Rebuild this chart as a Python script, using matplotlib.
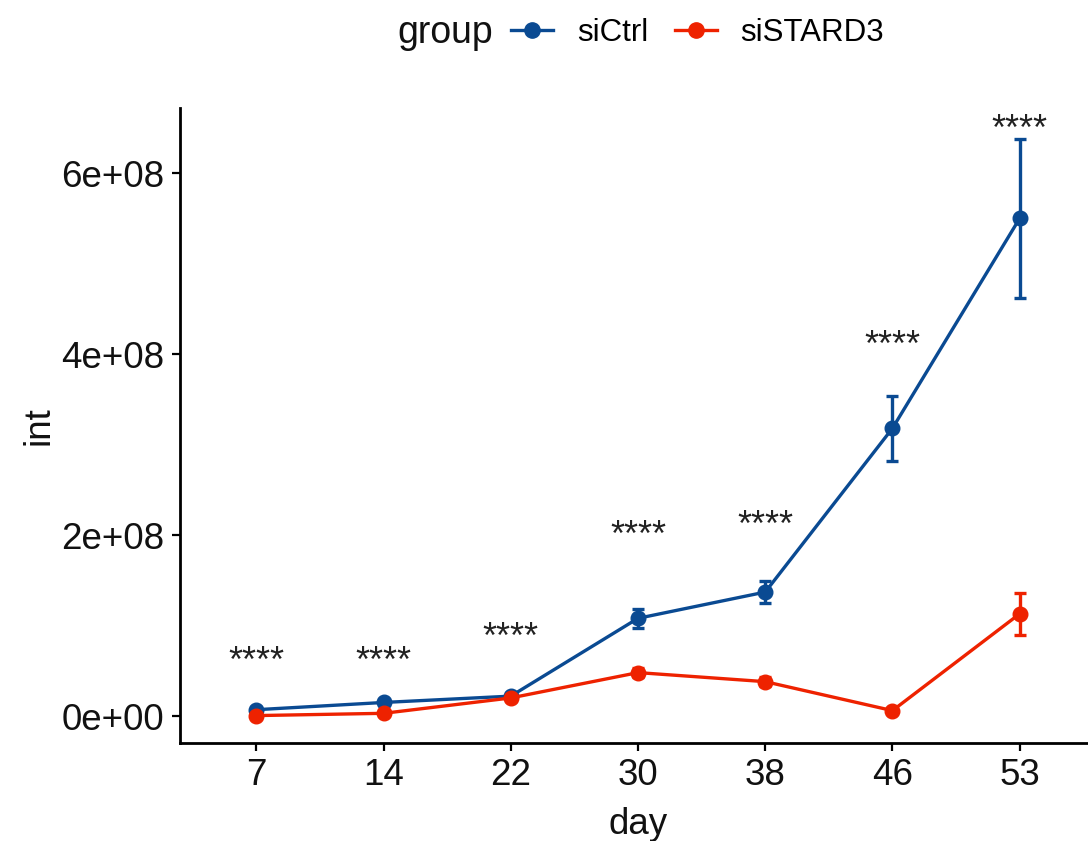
import matplotlib
matplotlib.use("Agg")
import matplotlib.pyplot as plt
import matplotlib.transforms as mtransforms
from matplotlib.lines import Line2D
import numpy as np

plt.rcParams['font.family'] = ['Liberation Sans', 'DejaVu Sans']

days = ["7", "14", "22", "30", "38", "46", "53"]
ctrl_mean = [7.0e6, 1.5e7, 2.2e7, 1.08e8, 1.37e8, 3.18e8, 5.50e8]
ctrl_err = [3.0e6, 3.0e6, 3.0e6, 1.05e7, 1.2e7, 3.6e7, 8.8e7]
stard3_mean = [0.5e6, 3.0e6, 2.0e7, 4.8e7, 3.8e7, 6.0e6, 1.13e8]
stard3_err = [2.0e6, 2.0e6, 3.0e6, 5.0e6, 5.0e6, 2.0e6, 2.35e7]
sig_labels = ["****"] * 7
sig_y = [7.0e7, 7.0e7, 9.6e7, 2.09e8, 2.20e8, 4.19e8, 6.58e8]
yticks = [0, 2e8, 4e8, 6e8]
ytick_labels = ["0e+00", "2e+08", "4e+08", "6e+08"]

blue = "#0A4A92"
red = "#EE2200"

fig = plt.figure(figsize=(10.88, 8.41), dpi=100)
W, H = 1088, 841
ax = fig.add_axes([180 / W, 1 - 743 / H, (1096 - 180) / W, (743 - 108) / H])

x = np.arange(len(days))
for mean, err, col, lab in [(ctrl_mean, ctrl_err, blue, "siCtrl"),
                            (stard3_mean, stard3_err, red, "siSTARD3")]:
    ax.errorbar(x, mean, yerr=err, color=col, lw=2.4, marker='o', ms=10.5,
                capsize=4.5, capthick=2.4, elinewidth=2.4, label=lab, zorder=3)

star_tr = ax.transData + mtransforms.ScaledTranslation(0, -7 / 72, fig.dpi_scale_trans)
for xi, yi, s in zip(x, sig_y, sig_labels):
    ax.text(xi, yi, s, ha='center', va='center', fontsize=26, color='#222222',
            transform=star_tr)

ax.set_xlim(-0.6, len(days) - 1 + 0.6)
ax.set_ylim(-2.98e7, 6.72e8)
ax.set_xticks(x)
ax.set_xticklabels(days)
ax.set_yticks(yticks)
ax.set_yticklabels(ytick_labels)
ax.tick_params(axis='both', labelsize=26.5, length=6, width=1.6, color='black',
               labelcolor='#111111', pad=5)
for sp in ['top', 'right']:
    ax.spines[sp].set_visible(False)
for sp in ['left', 'bottom']:
    ax.spines[sp].set_linewidth(2.0)
ax.set_xlabel("day", fontsize=26.5, labelpad=10, color='#111111')
ax.set_ylabel("int", fontsize=26.5, labelpad=4, color='#111111')

fig.text(397 / W, 1 - 33 / H, "group", fontsize=27, ha='left', va='center', color='#111111')
handles = [Line2D([0], [0], color=blue, lw=2.4, marker='o', ms=11),
           Line2D([0], [0], color=red, lw=2.4, marker='o', ms=11)]
fig.legend(handles, ["siCtrl", "siSTARD3"], loc='center left',
           bbox_to_anchor=(505 / W, 1 - 33 / H), ncol=2, frameon=False,
           fontsize=22.5, handlelength=1.35, columnspacing=0.85, handletextpad=0.75,
           borderpad=0.2, borderaxespad=0.0)

fig.savefig("out.png", dpi=100)
